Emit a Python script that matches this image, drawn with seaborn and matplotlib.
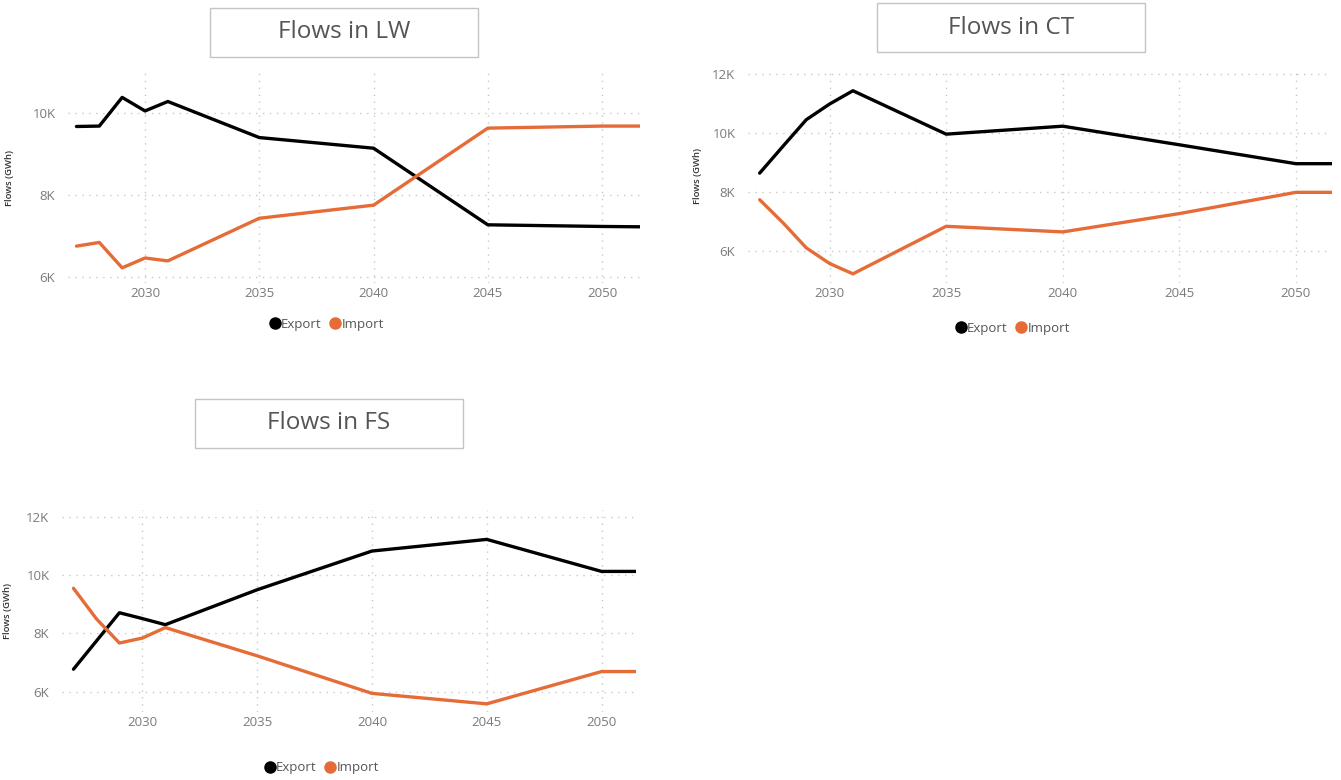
import matplotlib
matplotlib.use("Agg")
import matplotlib.pyplot as plt
from matplotlib.patches import Rectangle
from matplotlib.lines import Line2D
from matplotlib.ticker import FuncFormatter, FixedLocator
import pandas as pd
import seaborn as sns

# ---- data (GWh) ----
years = [2027, 2028, 2029, 2030, 2031, 2035, 2040, 2045, 2050, 2052]

lw_export = [9670, 9680, 10380, 10050, 10280, 9400, 9140, 7270, 7230, 7220]
lw_import = [6750, 6840, 6220, 6460, 6390, 7430, 7750, 9630, 9680, 9680]

ct_export = [8640, 9550, 10450, 10980, 11430, 9960, 10230, 9600, 8960, 8960]
ct_import = [7740, 6960, 6110, 5580, 5230, 6840, 6650, 7270, 7990, 7990]

fs_export = [6770, 7740, 8710, 8510, 8300, 9500, 10830, 11230, 10130, 10130]
fs_import = [9550, 8500, 7670, 7840, 8200, 7230, 5940, 5580, 6690, 6690]

series_names = ["Export", "Import"]
x_ticks = [2030, 2035, 2040, 2045, 2050]

BLACK = "#000000"
ORANGE = "#E66C37"
GRID = "#c9c9c9"
TICK = "#7a7a7a"

sns.set_theme(style="white")
plt.rcParams["font.family"] = ["Open Sans", "DejaVu Sans"]

W, H = 1341, 780
fig = plt.figure(figsize=(W / 100, H / 100), dpi=100)


def px_axes(l, t, r, b):
    return fig.add_axes([l / W, 1 - b / H, (r - l) / W, (b - t) / H])


def title_box(l, t, r, b, text):
    fig.patches.append(Rectangle((l / W, 1 - b / H), (r - l) / W, (b - t) / H,
                                 transform=fig.transFigure, fill=False,
                                 edgecolor="#c4c4c4", linewidth=1.0))
    fig.text((l + r) / 2 / W, 1 - (t + b) / 2 / H, text, ha="center", va="center",
             fontsize=17.5, color="#555555", fontweight="normal")


def panel(box, export, imp, xlim, ylim, yticks, ylabel_x, legend_xy):
    ax = px_axes(*box)
    df = pd.DataFrame({
        "Year": years * 2,
        "Flows": export + imp,
        "Series": [series_names[0]] * len(years) + [series_names[1]] * len(years),
    })
    sns.lineplot(data=df, x="Year", y="Flows", hue="Series",
                 palette={"Export": BLACK, "Import": ORANGE},
                 linewidth=2.4, ax=ax, legend=False)
    ax.set_xlim(*xlim)
    ax.set_ylim(*ylim)
    ax.xaxis.set_major_locator(FixedLocator(x_ticks))
    ax.yaxis.set_major_locator(FixedLocator(yticks))
    ax.yaxis.set_major_formatter(FuncFormatter(lambda v, p: f"{int(v / 1000)}K"))
    ax.grid(True, color=GRID, linestyle=(0, (1, 4)), linewidth=1.0)
    for s in ax.spines.values():
        s.set_visible(False)
    ax.tick_params(axis="both", length=0, labelsize=9.5, labelcolor=TICK)
    ax.tick_params(axis="y", pad=9)
    ax.tick_params(axis="x", pad=3)
    ax.set_xlabel("")
    ax.set_ylabel("Flows (GWh)", fontsize=6.8, color="#333333", fontweight="semibold")
    ax.yaxis.set_label_coords(ylabel_x, 0.5)
    handles = [Line2D([], [], marker="o", linestyle="", color=c, markersize=8)
               for c in (BLACK, ORANGE)]
    fig.legend(handles, series_names, loc="center",
               bbox_to_anchor=(legend_xy[0] / W, 1 - legend_xy[1] / H),
               ncol=2, frameon=False, fontsize=9.5, labelcolor="#555555",
               handletextpad=0.0, columnspacing=0.5, handlelength=1.0)
    return ax


# LW
title_box(210, 8, 478, 57, "Flows in LW")
panel((68, 72, 640, 283), lw_export, lw_import,
      (2026.63, 2051.66), (5850, 11000), [6000, 8000, 10000],
      (14 - 68) / (640 - 68), (326, 324))

# CT
title_box(877, 3, 1145, 52, "Flows in CT")
panel((748, 68, 1332, 283), ct_export, ct_import,
      (2026.5, 2051.55), (4920, 12200), [6000, 8000, 10000, 12000],
      (702 - 748) / (1332 - 748), (1012, 328))

# FS
title_box(195, 399, 463, 448, "Flows in FS")
panel((62, 510, 636, 712), fs_export, fs_import,
      (2026.5, 2051.5), (5300, 12240), [6000, 8000, 10000, 12000],
      (12 - 62) / (636 - 62), (321, 768))

fig.savefig("out.png", dpi=100, facecolor="white")
